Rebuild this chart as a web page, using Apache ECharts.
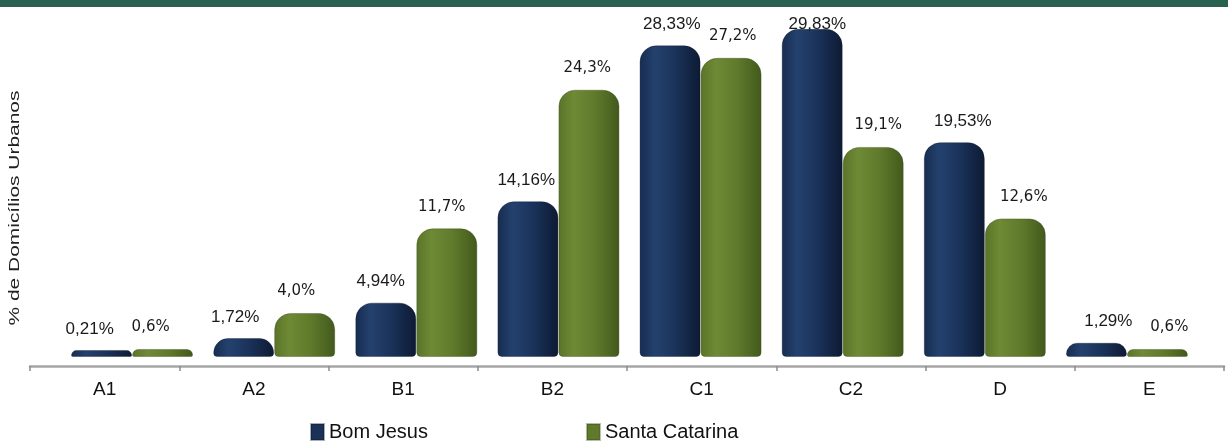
<!DOCTYPE html>
<html>
<head>
<meta charset="utf-8">
<script src="https://cdn.jsdelivr.net/npm/echarts@6/dist/echarts.min.js"></script>
<style>html,body{margin:0;padding:0;background:#fff}#c{width:1228px;height:442px}</style>
</head>
<body>
<div id="c"></div>
<script>
var categories = ['A1','A2','B1','B2','C1','C2','D','E'];
var bomJesus = [0.21, 1.72, 4.94, 14.16, 28.33, 29.83, 19.53, 1.29];
var santaCatarina = [0.6, 4.0, 11.7, 24.3, 27.2, 19.1, 12.6, 0.6];
var seriesNames = ['Bom Jesus', 'Santa Catarina'];
var yAxisTitle = '% de Domicílios Urbanos';

function fmt(v, d) { return v.toFixed(d).replace('.', ',') + '%'; }
function grad(edge, hi, base, dark) {
  return new echarts.graphic.LinearGradient(0, 0, 1, 0, [
    {offset: 0, color: edge}, {offset: 0.25, color: hi}, {offset: 0.6, color: base}, {offset: 1, color: dark}
  ]);
}
var bomMax = Math.max.apply(null, bomJesus);
function items(arr, decimals, dist, maxV) {
  return arr.map(function (v, i) {
    return {
      value: v,
      label: {
        offset: [(i - 3.5) * 3.4, 0],
        distance: (maxV !== undefined && v === maxV) ? -4 : dist,
        formatter: fmt(v, decimals)
      }
    };
  });
}

var chart = echarts.init(document.getElementById('c'));
chart.setOption({
  animation: false,
  backgroundColor: '#ffffff',
  graphic: [
    {type: 'rect', left: 0, top: 0, shape: {width: 1228, height: 7}, style: {fill: '#27614F'}},
    {type: 'text', x: 15, y: 208, rotation: Math.PI / 2, scaleX: 1.35,
     style: {text: yAxisTitle, font: '15.5px "Liberation Sans", Arial, sans-serif', fill: '#222', textAlign: 'center', textVerticalAlign: 'middle'}}
  ],
  legend: {
    left: 305, top: 417,
    itemWidth: 13, itemHeight: 16, itemGap: 158,
    icon: 'rect',
    textStyle: {fontFamily: '"Liberation Sans", Arial, sans-serif', fontSize: 20, color: '#111'},
    data: [
      {name: seriesNames[0], itemStyle: {color: '#1B3258'}},
      {name: seriesNames[1], itemStyle: {color: '#5F7A2C'}}
    ]
  },
  grid: [
    {left: 30, right: 4, top: 16, bottom: 76},
    {left: 61, right: 30, top: 16, bottom: 76}
  ],
  xAxis: [
    {type: 'category', gridIndex: 0, data: categories, boundaryGap: true,
     axisLine: {onZero: false, lineStyle: {color: '#A6A6A6', width: 2.5}},
     axisTick: {show: true, length: 5, lineStyle: {color: '#8C8C8C', width: 1.5}},
     axisLabel: {margin: 14, fontFamily: '"Liberation Sans", Arial, sans-serif', fontSize: 19, color: '#111'}},
    {type: 'category', gridIndex: 1, data: categories, show: false}
  ],
  yAxis: [
    {type: 'value', gridIndex: 0, min: -0.82, max: 31, show: false, splitLine: {show: false}},
    {type: 'value', gridIndex: 1, min: -0.82, max: 31, show: false, splitLine: {show: false}}
  ],
  series: [
    {name: seriesNames[0], type: 'bar', xAxisIndex: 1, yAxisIndex: 1,
     barWidth: 61, barGap: '0%', barMinHeight: 7,
     data: items(bomJesus, 2, 12.5, bomMax),
     itemStyle: {color: grad('#172C50', '#24416E', '#1A3259', '#0D1A33'), borderRadius: [16, 16, 4, 4],
                 borderColor: 'rgba(10,20,40,0.35)', borderWidth: 1},
     label: {show: true, position: 'top', fontFamily: '"Liberation Sans", Arial, sans-serif', fontSize: 17, color: '#1a1a1a'}},
    {name: seriesNames[1], type: 'bar', xAxisIndex: 1, yAxisIndex: 1,
     barWidth: 61, barGap: '0%', barMinHeight: 8,
     data: items(santaCatarina, 1, 14),
     itemStyle: {color: grad('#5A7428', '#6E8A35', '#5F7A2B', '#42591C'), borderRadius: [16, 16, 4, 4],
                 borderColor: 'rgba(50,65,20,0.35)', borderWidth: 1},
     label: {show: true, position: 'top', fontFamily: '"DejaVu Sans", sans-serif', fontSize: 15, color: '#1a1a1a'}}
  ]
});
</script>
</body>
</html>
